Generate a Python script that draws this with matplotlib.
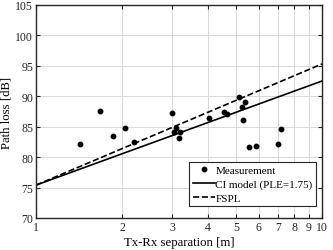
import matplotlib
matplotlib.use("Agg")
import matplotlib.pyplot as plt
import numpy as np

plt.rcParams['font.family'] = ['Liberation Serif', 'DejaVu Serif']
plt.rcParams['mathtext.fontset'] = 'stix'

meas_d = [1.43, 1.68, 1.86, 2.05, 2.20, 2.98, 3.08, 3.05, 3.18, 3.17, 4.03, 4.54, 4.67,
          5.14, 5.39, 5.27, 5.29, 5.54, 5.89, 7.02, 7.17]
meas_pl = [82.1, 87.6, 83.4, 84.8, 82.4, 87.2, 84.7, 84.1, 84.1, 83.1, 86.4, 87.4, 87.0,
           89.8, 89.0, 88.2, 86.1, 81.6, 81.9, 82.1, 84.6]
line_d = [1, 10]
ci_pl = [75.4, 92.5]
fspl_pl = [75.4, 95.3]

xticks = [1, 2, 3, 4, 5, 6, 7, 8, 9, 10]
yticks = [70, 75, 80, 85, 90, 95, 100, 105]

fig = plt.figure(figsize=(3.33, 2.51), dpi=100)
ax = fig.add_axes([0.108, 0.1275, 0.859, 0.849])

ax.plot(meas_d, meas_pl, 'o', color='black', markersize=3.2, label='Measurement', zorder=3)
ax.plot(line_d, ci_pl, '-', color='black', lw=1.2, label='CI model (PLE=1.75)')
ax.plot(line_d, fspl_pl, '--', color='black', lw=1.2, label='FSPL')

ax.set_xscale('log')
ax.set_xlim(1, 10)
ax.set_ylim(70, 105)
ax.set_xticks(xticks)
ax.set_xticklabels([str(t) for t in xticks])
ax.xaxis.set_minor_locator(matplotlib.ticker.NullLocator())
ax.set_yticks(yticks)
ax.grid(True, color='#d9d9d9', lw=0.7)
ax.set_axisbelow(True)
ax.tick_params(direction='in', top=True, right=True, labelsize=8.5, colors='#262626',
               length=3, width=0.8, pad=2)
for s in ax.spines.values():
    s.set_color('#262626')
    s.set_linewidth(1.0)
ax.set_xlabel('Tx-Rx separation [m]', fontsize=9.2, labelpad=2)
ax.set_ylabel('Path loss [dB]', fontsize=9.2, labelpad=2)

leg = ax.legend(loc='lower right', bbox_to_anchor=(0.979, 0.056), fontsize=8, frameon=True,
                fancybox=False, edgecolor='#262626', framealpha=1, borderpad=0.3,
                labelspacing=0.35, handlelength=2.0, handletextpad=0.05, borderaxespad=0)
leg.get_frame().set_linewidth(0.8)

fig.savefig('out.png', dpi=100)
